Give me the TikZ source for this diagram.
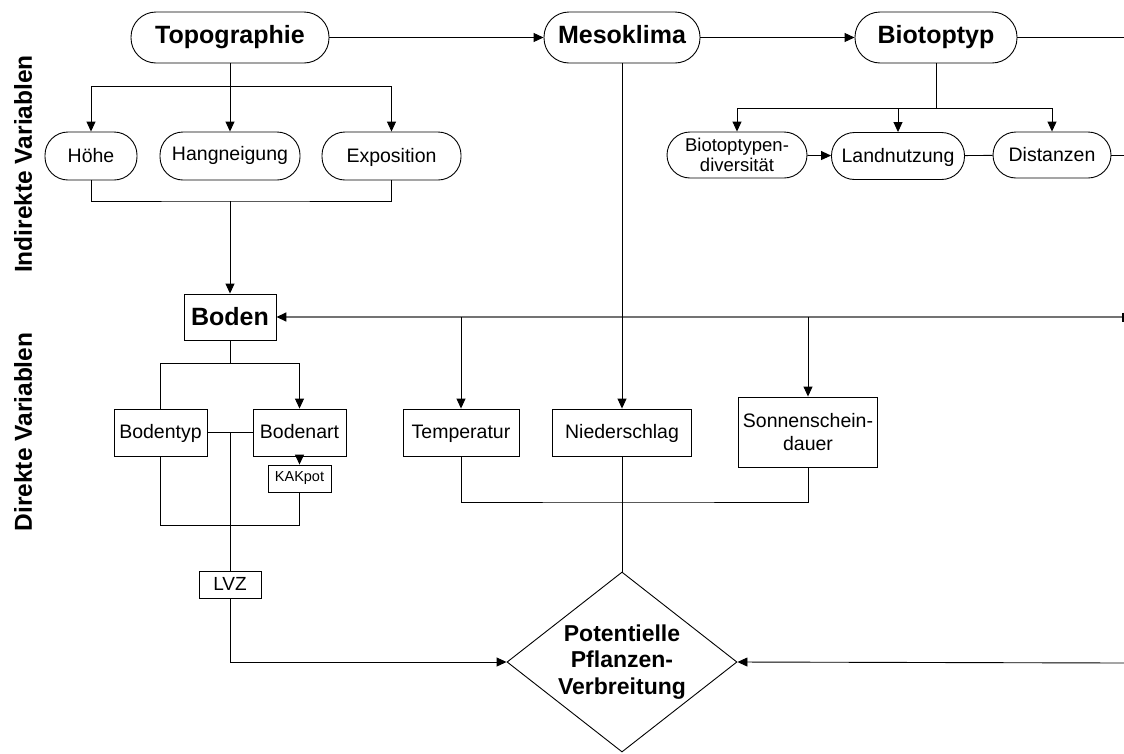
\documentclass[tikz,border=0pt]{standalone}
\usepackage{fontspec}
\setmainfont{Liberation Sans}
\usetikzlibrary{arrows.meta,shapes.geometric}
\begin{document}
\begin{tikzpicture}[x=1pt,y=-1pt,
  line width=0.9pt,
  arr/.style={-{Triangle[length=10pt,width=9pt]}},
  pill/.style={draw,rounded corners=#1,inner sep=0pt,align=center},
  pill/.default=23pt,
  box/.style={draw,rectangle,inner sep=0pt,align=center},
  big/.style={font=\fontsize{25}{29}\selectfont\bfseries},
  bigone/.style={big,text height=19pt,text depth=8pt},
  med/.style={font=\fontsize{19.5}{22}\selectfont},
  medone/.style={med,text height=16pt,text depth=4pt},
  sml/.style={font=\fontsize{18.5}{20}\selectfont},
  side/.style={rotate=90,font=\fontsize{24.5}{28}\selectfont\bfseries},
  graylink/.style={draw=black!55,line width=1.6pt}
]
\useasboundingbox (0,0) rectangle (1124,753);

% side labels
\node[side] (lind) at (23,164) {Indirekte Variablen};
\node[side] (ldir) at (23,432) {Direkte Variablen};

% top row
\node[pill=25pt,bigone,minimum width=198pt,minimum height=51pt] (topo) at (230,37.5) {Topographie};
\node[pill=25pt,bigone,minimum width=156pt,minimum height=51pt] (meso) at (622,37.5) {Mesoklima};
\node[pill=25pt,bigone,minimum width=162pt,minimum height=51pt] (bio) at (936,37.5) {Biotoptyp};

% topography children
\node[pill,medone,minimum width=92pt,minimum height=48pt] (hoehe) at (91,156) {Höhe};
\node[pill,medone,minimum width=140pt,minimum height=48pt] (hang) at (230,156) {\raisebox{2pt}{Hangneigung}};
\node[pill,medone,minimum width=139pt,minimum height=48pt] (expo) at (391.5,156) {Exposition};

% biotope children
\node[pill,sml,minimum width=140pt,minimum height=46pt] (bdiv) at (737,155) {Biotoptypen-\\diversität};
\node[pill,medone,minimum width=133pt,minimum height=47pt] (land) at (898,156) {Landnutzung};
\node[pill,medone,minimum width=118pt,minimum height=46pt] (dist) at (1052,155) {Distanzen};

% soil
\node[box,big,text height=20pt,text depth=4pt,minimum width=92pt,minimum height=46pt] (boden) at (230,317) {Boden};
\node[box,medone,minimum width=93pt,minimum height=47pt] (btyp) at (160.5,432.5) {Bodentyp};
\node[box,medone,minimum width=93pt,minimum height=47pt] (bart) at (299.5,432.5) {Bodenart};
\node[box,font=\fontsize{14.5}{17}\selectfont,minimum width=63pt,minimum height=27pt] (kak) at (299.5,478.5) {KAKpot};
\node[box,font=\fontsize{19}{22}\selectfont,text height=14pt,text depth=2pt,minimum width=62pt,minimum height=27pt] (lvz) at (230,584.5) {LVZ};

% climate
\node[box,medone,minimum width=116pt,minimum height=47pt] (temp) at (461,432.5) {Temperatur};
\node[box,medone,minimum width=139pt,minimum height=47pt] (nied) at (622,432.5) {Niederschlag};
\node[box,med,minimum width=139pt,minimum height=70pt] (sonn) at (808,432) {Sonnenschein-\\[1pt]dauer};

% result
\node[draw,diamond,inner sep=0pt,minimum width=230pt,minimum height=180pt] (pot) at (622,662) {};
\node[align=center,inner sep=0pt,font=\fontsize{23}{26.5}\selectfont\bfseries] (pottext) at (pot.center) {Potentielle\\Pflanzen-\\Verbreitung};

% coordinates
\coordinate (tj) at (230,86);
\coordinate (bj) at (230,201);
\coordinate (bbj) at (936,108);
\coordinate (e1) at (1124,37.5);
\coordinate (e2) at (1124,155);
\coordinate (re) at (1124,317);
\coordinate (re2) at (1124,663);
\coordinate (bj2) at (230,363);
\coordinate (bj3) at (230,525);
\coordinate (mb) at (622,502);

% top connectors
\draw[arr] (topo) -- (meso);
\draw[arr] (meso) -- (bio);
\draw (bio) -- (e1);

\draw (topo.south) -- (tj);
\draw[arr] (tj) -| (hoehe.north);
\draw[arr] (tj) -- (hang.north);
\draw[arr] (tj) -| (expo.north);

\draw (bio.south) -- (bbj);
\draw[arr] (bbj) -| (bdiv.north);
\draw[arr] (bbj -| land.north) -- (land.north);
\draw[arr] (bbj) -| (dist.north);
\draw[arr] (bdiv) -- (land);
\draw (land) -- (dist);
\draw (dist) -- (e2);

% to soil
\draw (hoehe.south) |- (bj) -| (expo.south);
\draw[arr] (bj) -- (boden.north);
\draw[graylink,{Bar[width=9pt,line width=1.6pt,black]}-{Triangle[length=10pt,width=9pt,black]}] (re) -- (boden.east);
\draw[arr] (temp.north |- re) -- (temp.north);
\draw[arr] (sonn.north |- re) -- (sonn.north);
\draw[arr] (meso.south) -- (nied.north);

% soil tree
\draw (boden.south) -- (bj2);
\draw (bj2) -| (btyp.north);
\draw[arr] (bj2) -| (bart.north);
\draw (btyp) -- (bart);
\draw[arr] (bart) -- (kak);
\draw (btyp.south) |- (bj3) -| (kak.south);
\draw (lvz.north |- btyp.east) -- (lvz.north);
\draw[arr] (lvz.south) |- (pot.west);

% climate bracket
\draw (temp.south) |- (mb) -| (sonn.south);
\draw (nied.south) -- (pot.north);
\draw[arr] (re2) -- (pot.east);
\end{tikzpicture}
\end{document}
